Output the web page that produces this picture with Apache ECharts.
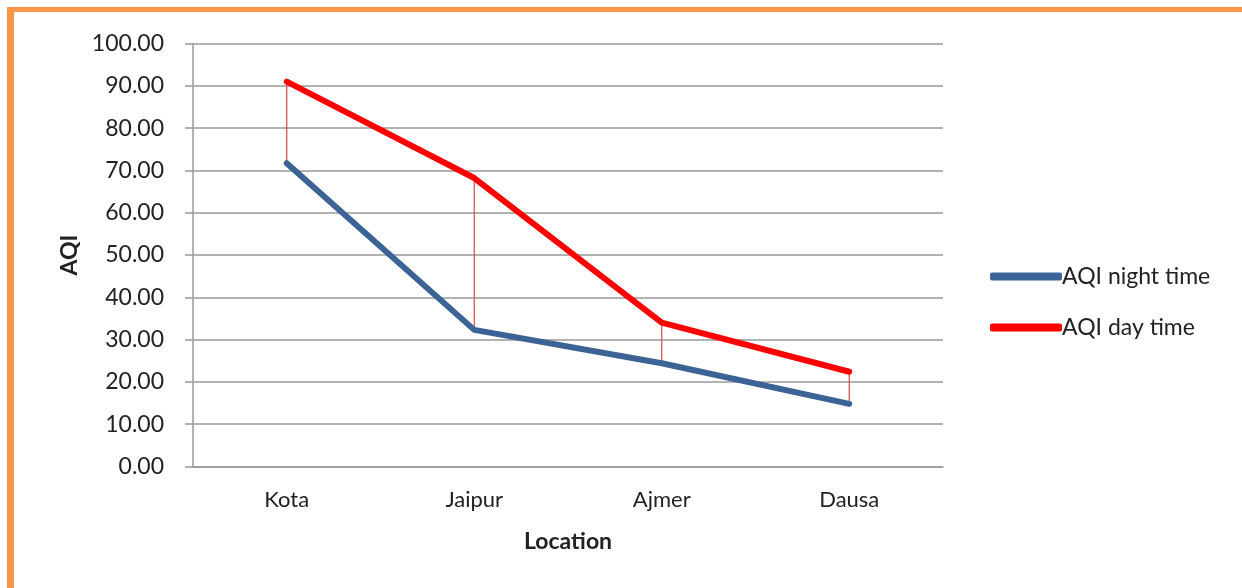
<!DOCTYPE html>
<html>
<head>
<meta charset="utf-8">
<script src="https://cdn.jsdelivr.net/npm/echarts@6/dist/echarts.min.js"></script>
<style>
  html, body { margin: 0; padding: 0; background: #fff; overflow: hidden; }
  #frame {
    position: absolute; left: 7px; top: 7px; width: 1228px; height: 600px;
    border-left: 7px solid #F79646; border-top: 5px solid #F79646; border-right: 4px solid #F79646;
    background: #fff;
  }
  #chart { position: absolute; left: 0; top: 0; width: 1242px; height: 588px; }
</style>
</head>
<body>
<div id="frame"></div>
<div id="chart"></div>
<script>
// Locations along the x axis
const locations = ['Kota', 'Jaipur', 'Ajmer', 'Dausa'];
// Air quality index measured at night and during the day
const aqiNight = [71.7, 32.3, 24.4, 14.8];
const aqiDay = [91.0, 68.2, 34.0, 22.4];
// Value axis range
const yMin = 0, yMax = 100, yStep = 10;

const chart = echarts.init(document.getElementById('chart'), null, { renderer: 'canvas' });
const font = 'Lato, "Open Sans", sans-serif';

chart.setOption({
  animation: false,
  backgroundColor: 'transparent',
  grid: { left: 193, right: 299, top: 43.5, bottom: 121.5, containLabel: false },
  legend: {
    orient: 'vertical', left: 985, top: 260, itemGap: 28,
    itemWidth: 72, itemHeight: 8, icon: 'roundRect',
    textStyle: { fontFamily: font, fontSize: 23, color: '#222', padding: [0, 0, 0, -5] },
    data: ['AQI night time', 'AQI day time']
  },
  xAxis: {
    type: 'category', data: locations, boundaryGap: true,
    name: 'Location', nameLocation: 'middle', nameGap: 64,
    nameTextStyle: { fontFamily: font, fontSize: 23, fontWeight: 'bold', color: '#222' },
    axisLine: { lineStyle: { color: '#999', width: 1.5 } },
    axisTick: { show: false },
    axisLabel: { fontFamily: font, fontSize: 22, color: '#222', margin: 22 },
    splitLine: { show: false }
  },
  yAxis: {
    type: 'value', min: yMin, max: yMax, interval: yStep,
    name: 'AQI', nameLocation: 'middle', nameGap: 112, nameRotate: 90,
    nameTextStyle: { fontFamily: font, fontSize: 23, fontWeight: 'bold', color: '#222' },
    axisLine: { show: true, lineStyle: { color: '#999', width: 1.5 } },
    axisTick: { show: true, length: 8, lineStyle: { color: '#999', width: 1.5 } },
    axisLabel: { fontFamily: font, fontSize: 23, color: '#222', margin: 29, formatter: v => v.toFixed(2) },
    splitLine: { lineStyle: { color: '#999', width: 1.5 } }
  },
  series: [
    {
      // thin connectors between the day and night value at each location
      type: 'custom', name: 'gap', z: 1, silent: true,
      data: locations.map((c, i) => [i, aqiDay[i], aqiNight[i]]),
      renderItem: (params, api) => {
        const top = api.coord([api.value(0), api.value(1)]);
        const bot = api.coord([api.value(0), api.value(2)]);
        return {
          type: 'line',
          shape: { x1: top[0], y1: top[1], x2: bot[0], y2: bot[1] },
          style: { stroke: '#D9474A', lineWidth: 1.2 }
        };
      }
    },
    {
      name: 'AQI night time', type: 'line', data: aqiNight, z: 3,
      showSymbol: false, symbol: 'none', color: '#3C6396',
      lineStyle: { color: '#3C6396', width: 6, cap: 'round', join: 'round' }
    },
    {
      name: 'AQI day time', type: 'line', data: aqiDay, z: 3,
      showSymbol: false, symbol: 'none', color: '#FF0000',
      lineStyle: { color: '#FF0000', width: 6, cap: 'round', join: 'round' }
    }
  ]
});
</script>
</body>
</html>
